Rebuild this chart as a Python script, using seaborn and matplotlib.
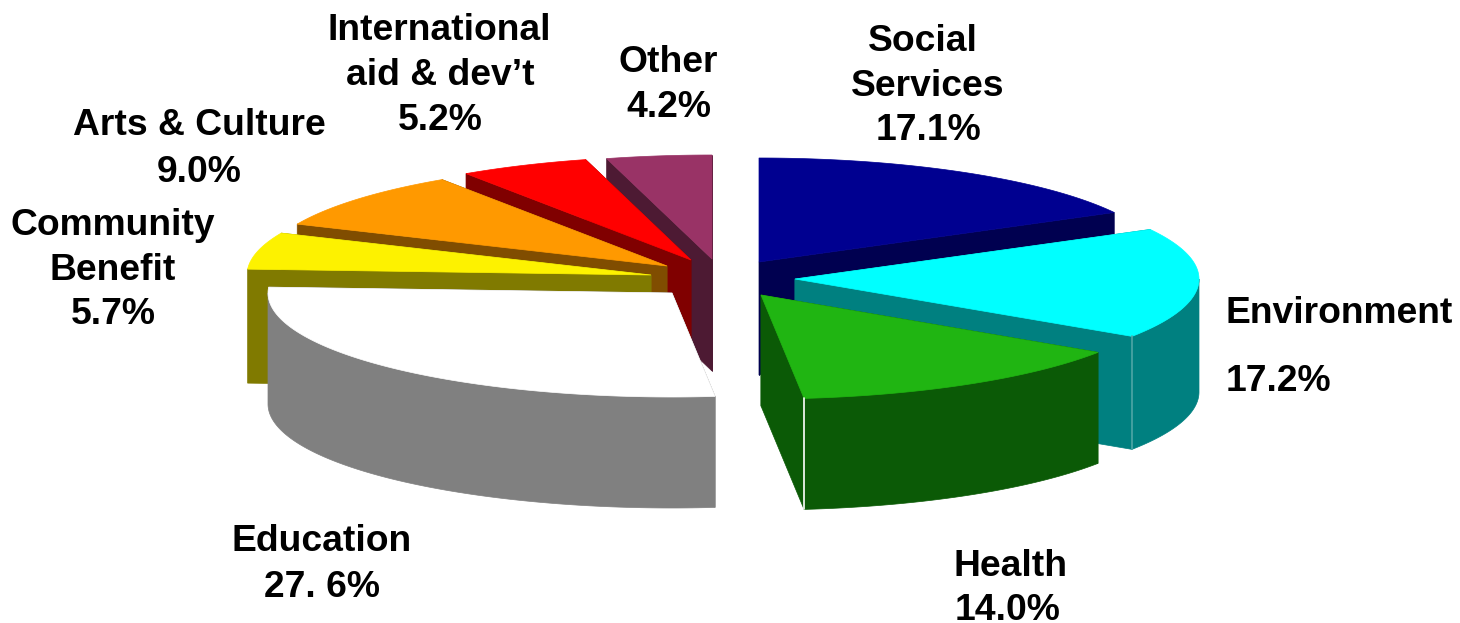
import numpy as np
import matplotlib
matplotlib.use("Agg")
import matplotlib.pyplot as plt
import seaborn as sns

# share of each sector, clockwise from 12 o'clock
sectors = ["Social Services", "Environment", "Health", "Education",
           "Community Benefit", "Arts & Culture", "International aid & dev't", "Other"]
shares = [17.1, 17.2, 14.0, 27.6, 5.7, 9.0, 5.2, 4.2]

top_colors = ["#000090", "#00ffff", "#20b512", "#ffffff", "#fdf200", "#ff9900", "#ff0000", "#993366"]
side_colors = ["#000050", "#008080", "#0b5a06", "#808080", "#807a00", "#804d00", "#800000", "#4d1a33"]

# where each exploded slice has its apex
apex_x = [759, 795, 761, 672, 651, 667, 691, 712]
apex_y = [262, 279, 295, 293, 275, 266, 260, 259]
depths = [113, 113, 111, 111, 114, 112, 112, 112]
seams = [None, "#4fa6a6", "#ffffff", None, None, None, None, None]
draw_order = [7, 6, 5, 4, 0, 1, 3, 2]
rx, ry = 404, 104

# text line, x centre, baseline
label_lines = [
    ("Social", 923, 51), ("Services", 928, 96), ("17.1%", 928, 140),
    ("Environment", 1339, 323), ("17.2%", 1278, 391),
    ("Health", 1011, 576), ("14.0%", 1008, 620),
    ("Education", 322, 551), ("27. 6%", 322, 597),
    ("Community", 113, 235), ("Benefit", 113, 280), ("5.7%", 113.5, 324),
    ("Arts & Culture", 199, 135), ("9.0%", 199, 182),
    ("International", 439, 40), ("aid & dev\u2019t", 440, 85), ("5.2%", 440, 130),
    ("Other", 668, 72), ("4.2%", 669, 117),
]

sns.set_theme(style="white")
plt.rcParams["font.family"] = ["Liberation Sans", "DejaVu Sans"]

fig, ax = plt.subplots(figsize=(14.6, 6.23), dpi=100)
fig.subplots_adjust(0, 0, 1, 1)
ax.set_xlim(0, 1460)
ax.set_ylim(623, 0)
ax.axis("off")

edges = np.concatenate([[0], np.cumsum(shares)]) / np.sum(shares) * 2 * np.pi


def rim(i, theta):
    return apex_x[i] + rx * np.sin(theta), apex_y[i] - ry * np.cos(theta)


for i in draw_order:
    a, b = edges[i], edges[i + 1]
    order_z = draw_order.index(i)

    # faces first, so that the wall and top go over them
    for theta in (a, b):
        x, y = rim(i, theta)
        ax.fill([apex_x[i], x, x, apex_x[i]],
                [apex_y[i], y, y + depths[i], apex_y[i] + depths[i]],
                color=side_colors[i], lw=0.5, zorder=order_z * 3 + 1)

    # outer wall, only the part that faces the viewer
    lo, hi = max(a, np.pi / 2), min(b, 3 * np.pi / 2)
    if lo < hi:
        t = np.linspace(lo, hi, 120)
        x, y = rim(i, t)
        ax.fill(np.r_[x, x[::-1]], np.r_[y, y[::-1] + depths[i]],
                color=side_colors[i], lw=0.5, zorder=order_z * 3 + 2)

    t = np.linspace(a, b, 120)
    x, y = rim(i, t)
    ax.fill(np.r_[apex_x[i], x], np.r_[apex_y[i], y],
            color=top_colors[i], lw=0.5, zorder=order_z * 3 + 3)

    if seams[i]:
        x, y = rim(i, b)
        ax.plot([x, x], [y, y + depths[i]], color=seams[i], lw=1.2,
                zorder=order_z * 3 + 3)

for text, x, y in label_lines:
    ax.text(x, y, text, ha="center", va="baseline", fontsize=26.8,
            fontweight="bold", color="black", zorder=50)

fig.savefig("out.png", dpi=100, facecolor="white")
